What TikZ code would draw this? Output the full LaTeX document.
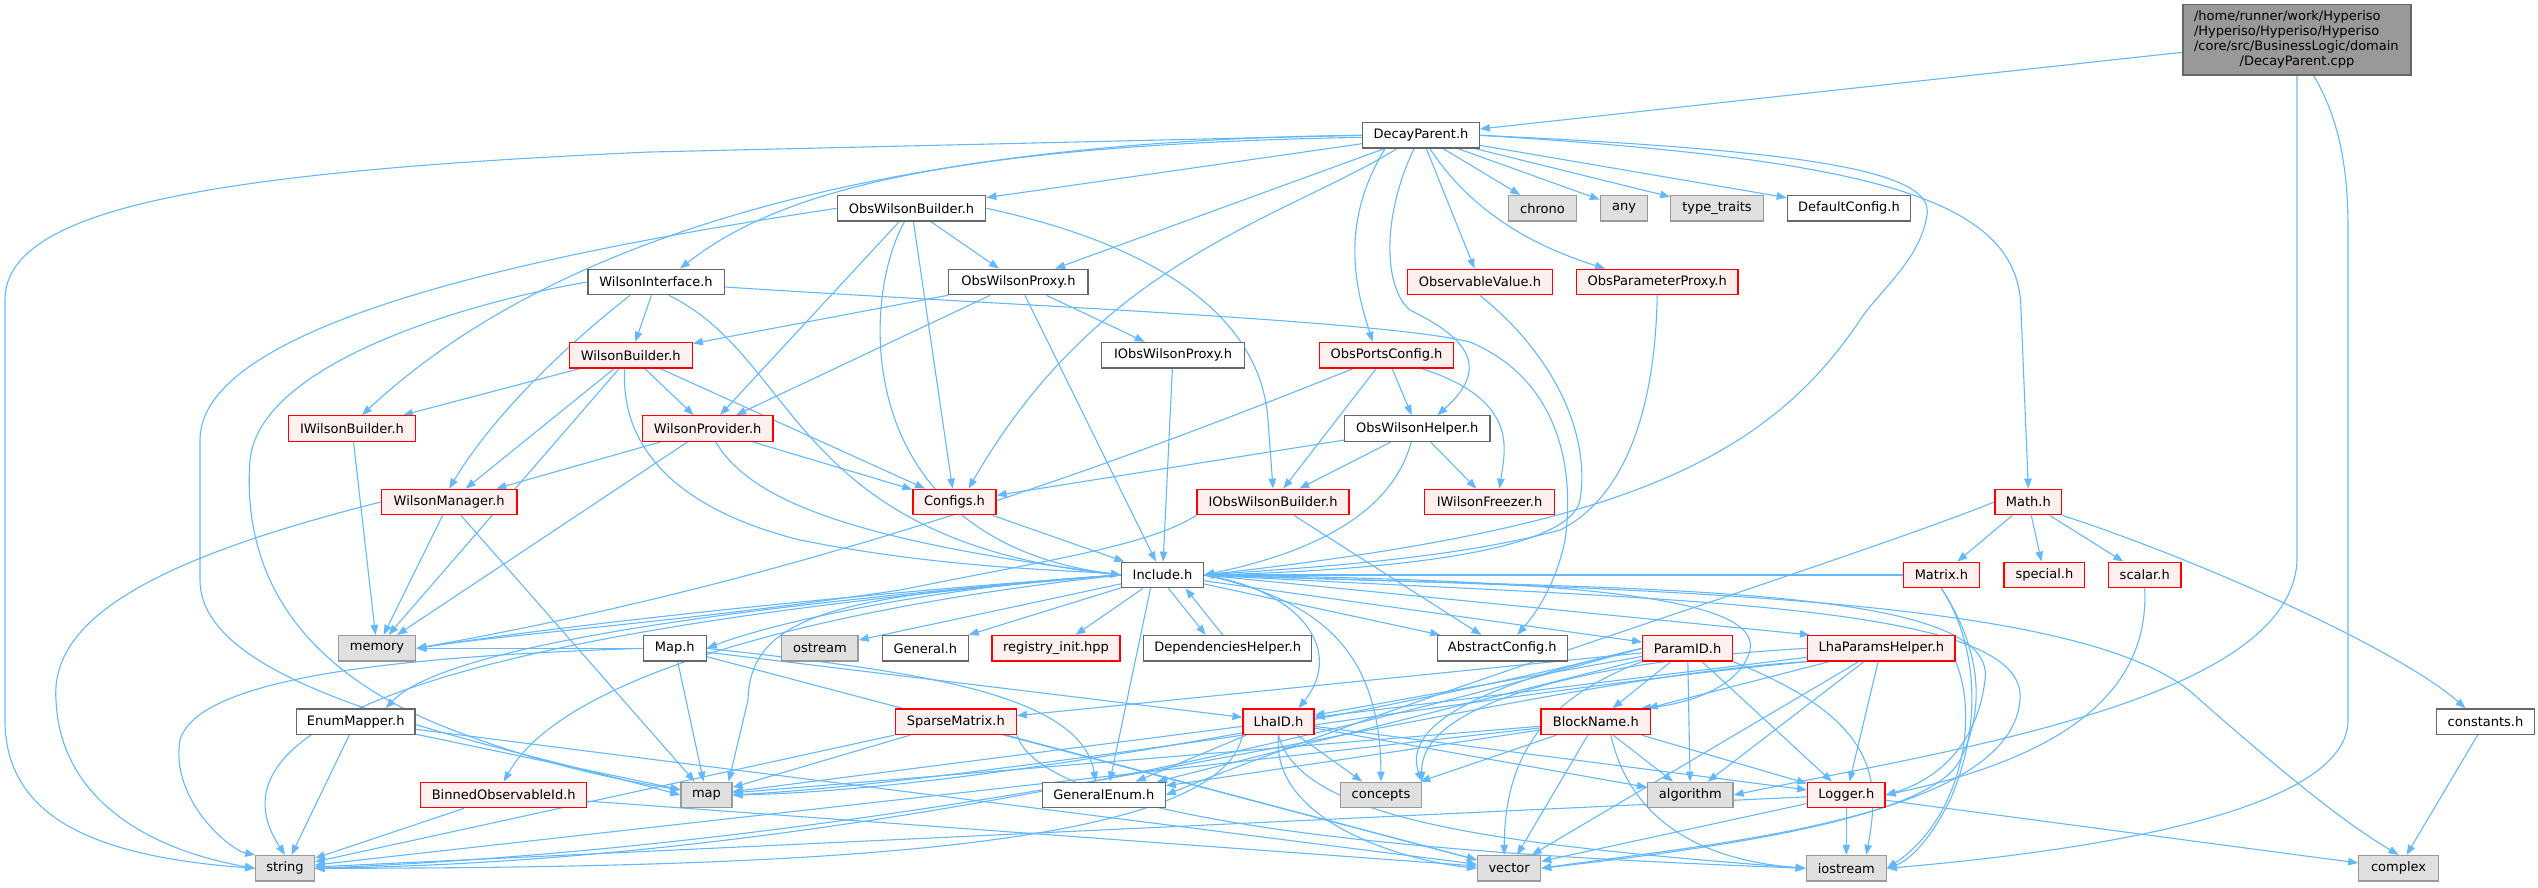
\documentclass[tikz,border=0pt]{standalone}
\usepackage{fontspec}
\setmainfont{DejaVu Sans}
\usetikzlibrary{arrows.meta}
\definecolor{edgec}{HTML}{63B8FF}
\definecolor{nodeb}{HTML}{666666}
\definecolor{sysf}{HTML}{E0E0E0}
\definecolor{sysb}{HTML}{999999}
\definecolor{redf}{HTML}{FFF0F0}
\definecolor{redb}{HTML}{FF0000}
\definecolor{rootf}{HTML}{999999}
\pgfdeclarelayer{bg}
\pgfsetlayers{bg,main}
\tikzset{
 box/.style={draw=nodeb, fill=white, line width=1.3pt, minimum height=25.5pt, inner sep=0pt, font=\fontsize{13}{15}\selectfont, text=black},
 sysn/.style={box, draw=sysb, fill=sysf},
 redn/.style={box, draw=redb, fill=redf},
 rootn/.style={box, fill=rootf, draw=nodeb},
 edg/.style={draw=edgec, line width=1.1pt, -{Triangle[length=10pt,width=7.5pt]}},
}
\newcommand\mk[5]{\node[#1,minimum width=#4pt] (#2) at (#3) {#5};}
\begin{document}
\begin{tikzpicture}[x=1pt,y=-1pt]
\useasboundingbox (0,0) rectangle (2538,887);
\node[rootn, text width=206pt, align=left, minimum width=228pt, minimum height=70.3pt] (root) at (2297,39.8)
 {/home/runner/work/Hyperiso\\/Hyperiso/Hyperiso/Hyperiso\\/core/src/BusinessLogic/domain\\\makebox[206pt][c]{/DecayParent.cpp}};
\mk{box}{DP}{1421,135.3}{116.5}{DecayParent.h}
\mk{box}{OWB}{911.5,208.3}{148.3}{ObsWilsonBuilder.h}
\mk{sysn}{chrono}{1542.5,208.3}{67.6}{chrono}
\mk{sysn}{any}{1624,208.3}{47.3}{any}
\mk{sysn}{tt}{1717,208.3}{92.4}{type\_traits}
\mk{box}{DC}{1849,208.3}{123.4}{DefaultConfig.h}
\mk{box}{WI}{656,282}{136.3}{WilsonInterface.h}
\mk{box}{OWP}{1018.4,282}{139.2}{ObsWilsonProxy.h}
\mk{redn}{OV}{1479.9,282}{144.6}{ObservableValue.h}
\mk{redn}{OPP}{1657.2,282}{161.7}{ObsParameterProxy.h}
\mk{redn}{WB}{630.7,355.2}{123}{WilsonBuilder.h}
\mk{box}{IOWP}{1173,355.2}{142.6}{IObsWilsonProxy.h}
\mk{redn}{OPC}{1386.5,355.2}{133.5}{ObsPortsConfig.h}
\mk{redn}{IWB}{352,428.5}{127}{IWilsonBuilder.h}
\mk{redn}{WP}{707.7,428.5}{130.6}{WilsonProvider.h}
\mk{box}{OWH}{1417.3,428.5}{145.4}{ObsWilsonHelper.h}
\mk{redn}{WM}{449.2,502}{135.6}{WilsonManager.h}
\mk{redn}{CF}{954.5,502}{83}{Configs.h}
\mk{redn}{IOWB}{1273,502}{152}{IObsWilsonBuilder.h}
\mk{redn}{IWF}{1489.5,502}{129.7}{IWilsonFreezer.h}
\mk{redn}{Math}{2028.3,502}{66.7}{Math.h}
\mk{box}{INC}{1162.5,575}{81.7}{Include.h}
\mk{redn}{Matrix}{1941.4,575}{76.2}{Matrix.h}
\mk{redn}{special}{2044.4,575}{80.8}{special.h}
\mk{redn}{scalar}{2144.7,575}{72.6}{scalar.h}
\mk{sysn}{memory}{377,648.3}{77.5}{memory}
\mk{box}{Map}{674.8,648.3}{63}{Map.h}
\mk{sysn}{ostream}{819.9,648.3}{76.3}{ostream}
\mk{box}{General}{925.3,648.3}{85.8}{General.h}
\mk{redn}{reg}{1056,648.3}{128.1}{registry\_init.hpp}
\mk{box}{DepH}{1227.7,648.3}{168.2}{DependenciesHelper.h}
\mk{box}{AC}{1502.3,648.3}{129.8}{AbstractConfig.h}
\mk{redn}{PID}{1687.6,648.3}{89.9}{ParamID.h}
\mk{redn}{LPH}{1881.3,648.3}{147.4}{LhaParamsHelper.h}
\mk{box}{EM}{355.7,721.7}{118.6}{EnumMapper.h}
\mk{redn}{SM}{955.8,721.7}{121}{SparseMatrix.h}
\mk{redn}{LID}{1278.5,721.7}{70.9}{LhaID.h}
\mk{redn}{BN}{1595.8,721.7}{109.5}{BlockName.h}
\mk{box}{consts}{2485.5,721.7}{98.3}{constants.h}
\mk{redn}{BOI}{503.7,795}{165.9}{BinnedObservableId.h}
\mk{sysn}{map}{706.5,795}{51}{map}
\mk{box}{GE}{1103.8,795}{122.7}{GeneralEnum.h}
\mk{sysn}{concepts}{1381,795}{80.4}{concepts}
\mk{sysn}{algo}{1690.3,795}{85.4}{algorithm}
\mk{redn}{Logger}{1846.3,795}{77.4}{Logger.h}
\mk{sysn}{string}{285,868.3}{58.4}{string}
\mk{sysn}{vector}{1509.1,868.3}{63}{vector}
\mk{sysn}{iostream}{1846.3,868.3}{80}{iostream}
\mk{sysn}{complex}{2398.6,868.3}{79.6}{complex}
\begin{pgfonlayer}{bg}
% root
\draw[edg] (root) -- (DP);
\draw[edg] (root.south) -- (2297,560) .. controls (2292,700) and (1950,750) .. (algo.east);
\draw[edg] ([xshift=16.6pt]root.south) .. controls (2340,120) and (2348,170) .. (2348,230) -- (2348,720) .. controls (2348,810) and (2100,850) .. (iostream.east);
% DecayParent
\foreach \t in {chrono,any,tt,DC,OV,OWB,OWP} {\draw[edg] (DP) -- (\t);}
\draw[edg] ([xshift=9pt]DP.south) .. controls (1470,210) and (1530,245) .. ([xshift=-52pt]OPP.north);
\draw[edg] ([yshift=-2pt]DP.west) .. controls (950,145) and (780,190) .. ([xshift=24pt]WI.north);
\draw[edg] (DP.west) .. controls (900,140) and (560,230) .. ([xshift=10pt]IWB.north);
\draw[edg] ([xshift=-24pt]DP.south) .. controls (1280,220) and (1100,260) .. ([xshift=14pt]CF.north);
\draw[edg] ([xshift=-7pt]DP.south) .. controls (1380,220) and (1385,290) .. (1410,310) .. controls (1450,330) and (1500,360) .. ([xshift=20pt]OWH.north);
\draw[edg] ([xshift=-36pt]DP.south) .. controls (1335,230) and (1360,300) .. ([xshift=-14pt]OPC.north);
\draw[edg] (DP.west) -- (650,152) .. controls (200,172) and (5,210) .. (5,300) -- (5,720) .. controls (5,820) and (100,857) .. (string.west);
\draw[edg] (DP.east) .. controls (1880,160) and (2020,200) .. (2021,310) -- (Math.north);
\draw[edg] (DP.east) .. controls (1800,150) and (1935,170) .. (1927,215) .. controls (1920,260) and (1880,290) .. (1860,320) .. controls (1760,470) and (1600,530) .. (INC.east);
% ObsWilsonBuilder
\foreach \t in {OWP,WP,CF} {\draw[edg] (OWB) -- (\t);}
\draw[edg] ([xshift=-7pt]OWB.south) .. controls (860,300) and (850,540) .. (INC.west);
\draw[edg] (OWB.east) .. controls (1180,250) and (1262,330) .. (1268,420) -- (IOWB.north);
\draw[edg] (OWB.west) .. controls (560,250) and (200,320) .. (200,440) -- (200,580) .. controls (200,690) and (480,740) .. (map.west);
% WilsonInterface
\draw[edg] (WI) -- (WB);
\draw[edg] ([xshift=13pt]WI.south) .. controls (800,360) and (790,540) .. (INC.west);
\draw[edg] ([xshift=-26pt]WI.south) .. controls (560,350) and (490,420) .. (WM.north);
\draw[edg] ([yshift=-5pt]WI.east) .. controls (1000,305) and (1380,320) .. (1470,342) .. controls (1560,380) and (1575,470) .. (1565,540) .. controls (1555,590) and (1530,620) .. ([xshift=15pt]AC.north);
\draw[edg] (WI.west) .. controls (480,300) and (260,360) .. (250,460) .. controls (240,600) and (330,680) .. (440,725) .. controls (540,765) and (620,780) .. ([yshift=5pt]map.west);
% ObsWilsonProxy
\foreach \t in {WB,WP,IOWP,INC} {\draw[edg] (OWP) -- (\t);}
\draw[edg] (OV.south) .. controls (1560,360) and (1590,440) .. (1580,500) .. controls (1570,550) and (1400,570) .. (INC.east);
\draw[edg] (OPP.south) .. controls (1655,420) and (1620,500) .. (1560,530) .. controls (1450,560) and (1300,568) .. (INC.east);
% WilsonBuilder
\foreach \t in {IWB,WP,WM,CF,memory} {\draw[edg] (WB) -- (\t);}
\draw[edg] ([xshift=-6pt]WB.south) .. controls (620,450) and (680,510) .. (800,540) .. controls (950,570) and (1080,570) .. (INC.west);
\draw[edg] (IOWP) -- (INC);
% ObsPortsConfig
\foreach \t in {OWH,IOWB} {\draw[edg] (OPC) -- (\t);}
\draw[edg] ([xshift=35pt]OPC.south) .. controls (1520,400) and (1505,450) .. ([xshift=10pt]IWF.north);
\draw[edg] (OPC) .. controls (1100,470) and (800,580) .. (memory.east);
% ObsWilsonHelper
\foreach \t in {CF,IOWB,IWF} {\draw[edg] (OWH) -- (\t);}
\draw[edg] ([xshift=-6pt]OWH.south) .. controls (1390,520) and (1300,555) .. (INC.east);
% Math
\foreach \t in {Matrix,special,scalar} {\draw[edg] (Math) -- (\t);}
\draw[edg] (Math.south east) .. controls (2200,560) and (2400,650) .. ([xshift=-20pt]consts.north);
\draw[edg] (Math.west) .. controls (1850,560) and (1400,700) .. (GE.east);
\draw[edg] (IWB) -- (memory);
\foreach \t in {WM,CF,memory} {\draw[edg] (WP) -- (\t);}
\draw[edg] ([xshift=8pt]WP.south) .. controls (750,500) and (850,540) .. (INC.west);
\foreach \t in {memory,map} {\draw[edg] (WM) -- (\t);}
\draw[edg] (WM.west) .. controls (150,560) and (50,620) .. (56,700) .. controls (60,800) and (150,850) .. (string.west);
\draw[edg] (CF) -- (INC);
\draw[edg] (IOWB) -- (AC);
\draw[edg] (IOWB.south west) .. controls (1150,545) and (1050,560) .. (900,590) .. controls (700,620) and (500,635) .. (memory.east);
\draw[edg] ([xshift=6pt]INC.south) -- ([xshift=-22pt]DepH.north);
\draw[edg] ([xshift=-5pt]DepH.north) -- ([xshift=23pt]INC.south);
% Include
\foreach \t in {ostream,General,reg,AC,PID} {\draw[edg] (INC) -- (\t);}
\draw[edg] (INC.east) -- ([xshift=3pt]LPH.north west);
\draw[edg] (INC.west) .. controls (900,590) and (600,620) .. (memory.east);
\draw[edg] (INC.west) .. controls (950,585) and (780,620) .. (Map.east);
\draw[edg] (INC.west) .. controls (800,600) and (450,640) .. ([xshift=30pt]EM.north);
\draw[edg] (INC.west) .. controls (800,610) and (560,680) .. (BOI.north);
\draw[edg] (INC.west) .. controls (700,610) and (170,680) .. (string.north);
\draw[edg] (INC.west) .. controls (850,595) and (750,610) .. (748,700) -- ([xshift=-4pt]map.north east);
\draw[edg] ([xshift=-12pt]INC.south) -- ([xshift=6pt]GE.north);
\draw[edg] (INC.east) .. controls (1300,590) and (1345,650) .. ([xshift=20pt]LID.north);
\draw[edg] (INC.east) .. controls (1600,580) and (1760,600) .. (1750,650) .. controls (1740,690) and (1680,705) .. ([xshift=45pt]BN.north);
\draw[edg] (INC.east) .. controls (1320,600) and (1380,650) .. (concepts.north);
\draw[edg] (INC.east) .. controls (1600,590) and (2000,580) .. (1985,680) .. controls (1975,760) and (1920,785) .. (Logger.east);
\draw[edg] (INC.east) .. controls (1650,600) and (2030,600) .. (2020,700) .. controls (2010,820) and (1700,845) .. (vector.east);
\draw[edg] (INC.east) .. controls (1700,590) and (2100,600) .. (2200,700) .. controls (2280,770) and (2340,820) .. (complex.north);
% ParamID
\foreach \t in {LID,BN,GE,algo,Logger,SM} {\draw[edg] (PID) -- (\t);}
\draw[edg] (PID.west) .. controls (1480,690) and (1000,790) .. (map.east);
\draw[edg] (PID.west) .. controls (1450,700) and (900,860) .. (string.east);
\draw[edg] (PID.south west) .. controls (1540,700) and (1505,760) .. ([xshift=-5pt]vector.north);
\draw[edg] (PID.south east) .. controls (1880,720) and (1880,780) .. ([xshift=20pt]iostream.north);
\draw[edg] (PID.west) .. controls (1500,680) and (1400,720) .. (concepts.north east);
% LhaParamsHelper
\foreach \t in {BN,LID,Logger,algo,vector} {\draw[edg] (LPH) -- (\t);}
\draw[edg] (LPH.south west) .. controls (1500,680) and (1000,840) .. (string.east);
\draw[edg] (LPH.south west) .. controls (1500,690) and (1000,780) .. (map.east);
\draw[edg] (LPH.west) .. controls (1600,660) and (1420,700) .. (concepts.north east);
\draw[edg] (LPH.south east) .. controls (1980,720) and (1960,820) .. (iostream.east);
% BlockName
\foreach \t in {GE,map,concepts,algo,Logger,vector,string} {\draw[edg] (BN) -- (\t);}
\draw[edg] ([xshift=15pt]BN.south) .. controls (1630,820) and (1700,860) .. (iostream.west);
% LhaID
\foreach \t in {map,GE,concepts,algo,Logger} {\draw[edg] (LID) -- (\t);}
\draw[edg] (LID.south west) .. controls (1220,850) and (800,868) .. (string.east);
\draw[edg] (LID.south) .. controls (1300,820) and (1500,845) .. (iostream.west);
\draw[edg] (LID.south) .. controls (1270,820) and (1400,860) .. (vector.west);
% SparseMatrix
\foreach \t in {map,string,vector} {\draw[edg] (SM) -- (\t);}
\draw[edg] (SM.south east) .. controls (1050,840) and (1600,860) .. (iostream.west);
% Map
\foreach \t in {map,LID,vector,memory} {\draw[edg] (Map) -- (\t);}
\draw[edg] (Map.east) .. controls (900,670) and (1080,690) .. ([xshift=-8pt]GE.north);
\draw[edg] (Map.west) .. controls (450,655) and (200,670) .. (180,740) .. controls (170,800) and (230,850) .. (string.north west);
\foreach \t in {string,map,vector} {\draw[edg] (EM) -- (\t);}
\foreach \t in {string,vector} {\draw[edg] (BOI) -- (\t);}
\foreach \t in {string,vector,iostream,complex} {\draw[edg] (Logger) -- (\t);}
\draw[edg] (Matrix.west) -- (INC.east);
\draw[edg] (Matrix.south) .. controls (1975,640) and (1990,700) .. (1960,760) .. controls (1930,820) and (1700,850) .. (vector.east);
\draw[edg] (Matrix.south) .. controls (1975,640) and (1985,720) .. (1950,800) .. controls (1930,840) and (1910,860) .. (iostream.east);
\draw[edg] (scalar.south) .. controls (2150,700) and (2050,760) .. (Logger.east);
\draw[edg] (consts) -- (complex);
\end{pgfonlayer}
\end{tikzpicture}
\end{document}
